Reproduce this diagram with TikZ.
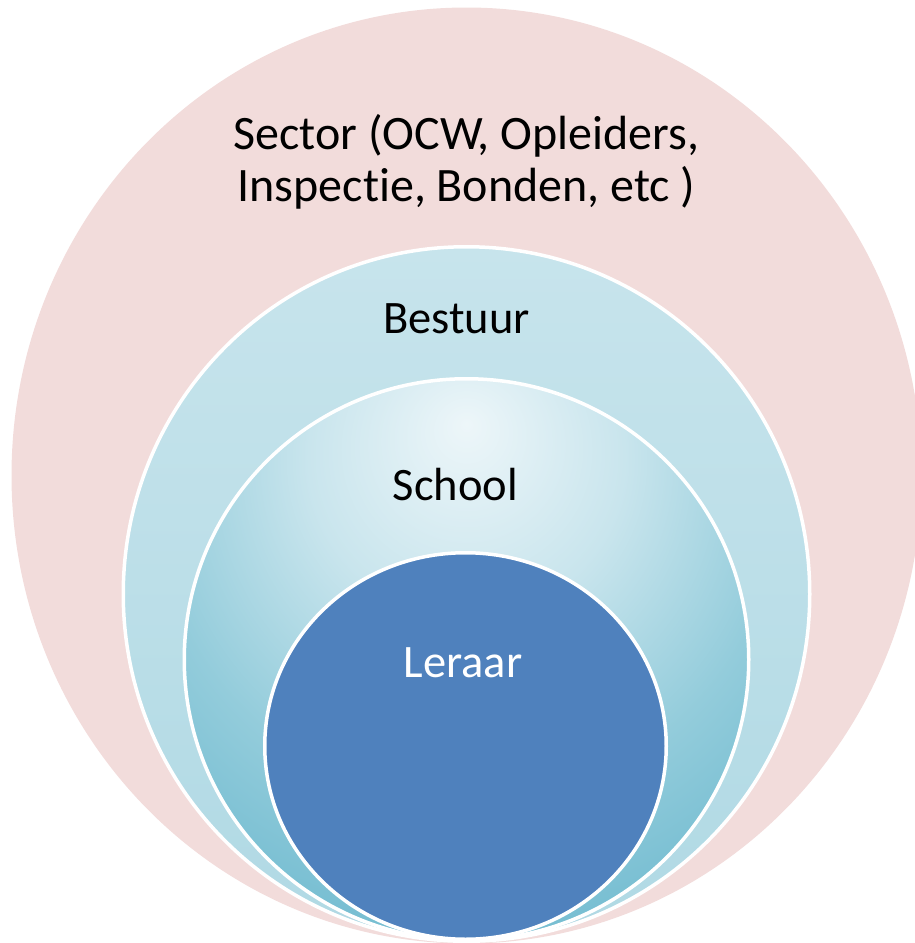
\documentclass[tikz,border=0pt]{standalone}
\usepackage{fontspec}
\setmainfont{Carlito}[Ligatures={NoCommon}]
\usetikzlibrary{shapes.geometric, positioning}

\definecolor{sectorpink}{HTML}{F2DCDB}
\definecolor{bestuurtop}{HTML}{C7E4EC}
\definecolor{bestuurbot}{HTML}{B0D9E4}
\definecolor{schoollight}{HTML}{EDF6F9}
\definecolor{schoolmid}{HTML}{C9E5ED}
\definecolor{schoolside}{HTML}{93CCDB}
\definecolor{schooldark}{HTML}{6BB8CE}
\definecolor{leraarblue}{HTML}{4F81BD}

\pgfdeclareradialshading{schoolglow}{\pgfpoint{0bp}{21bp}}{%
  color(0bp)=(schoollight);
  color(14bp)=(schoolmid);
  color(28bp)=(schoolside);
  color(42bp)=(schooldark);
  color(100bp)=(schooldark)}

\begin{document}
\begin{tikzpicture}[x=1pt, y=-1pt,
        ring/.style={ellipse, inner sep=0pt, draw=white, line width=3.5pt},
        label/.style={font=\fontsize{46.5}{52}\selectfont, inner sep=0pt, anchor=base}
    ]
        \useasboundingbox (0,0) rectangle (915,943);
        \clip (0,0) rectangle (915,943);

        % Rings, outside in
        \node[ellipse, inner sep=0pt, fill=sectorpink, minimum width=910pt, minimum height=936pt] (sector) at (466.5,475.5) {};
        \node[ring, top color=bestuurtop, bottom color=bestuurbot, minimum width=686.5pt, minimum height=694.5pt] (bestuur) at (466.5,594) {};
        \node[ring, shading=schoolglow, minimum width=564.5pt, minimum height=561.5pt] (school) at (466.5,659.5) {};
        \node[ring, fill=leraarblue, minimum width=401.5pt, minimum height=386.5pt] (leraar) at (465.5,746) {};

        % Labels
        \node[label, align=center, font=\fontsize{48}{52}\selectfont] (sectortext) at (466.5,201) {Sector (OCW, Opleiders,\\Inspectie, Bonden, etc )};
        \node[label] (bestuurtext) at (456.5,333) {Bestuur};
        \node[label] (schooltext) at (455.5,500) {School};
        \node[label, text=white] (leraartext) at (463,677) {Leraar};
    \end{tikzpicture}
\end{document}
